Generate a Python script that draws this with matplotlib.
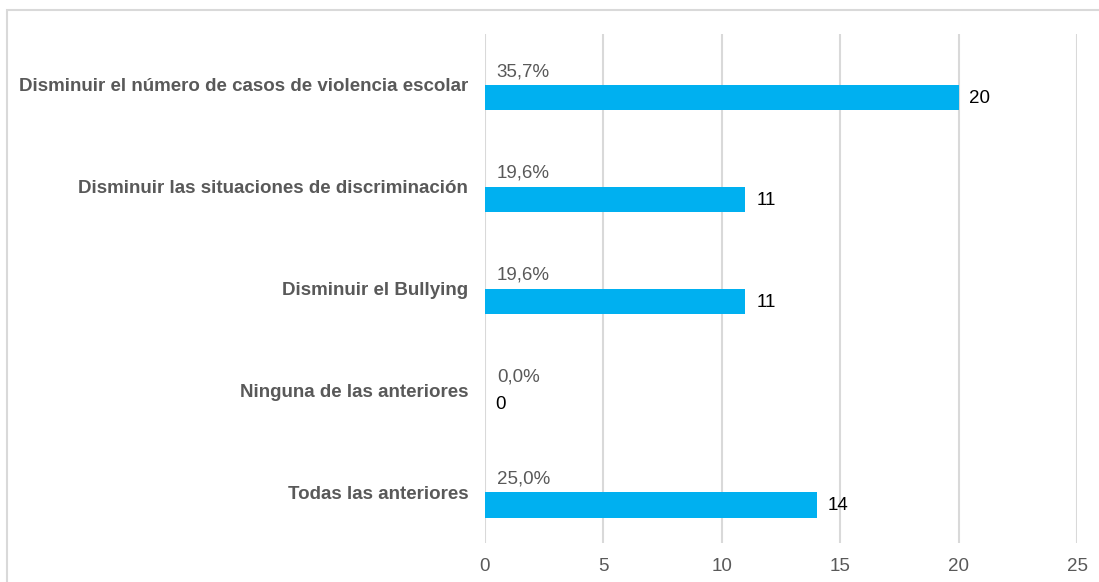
import matplotlib.pyplot as plt
from matplotlib.patches import Rectangle

plt.rcParams['font.family'] = ['Liberation Sans', 'DejaVu Sans']

# data
categories = ["Disminuir el número de casos de violencia escolar",
              "Disminuir las situaciones de discriminación",
              "Disminuir el Bullying",
              "Ninguna de las anteriores",
              "Todas las anteriores"]
counts = [20, 11, 11, 0, 14]
percents = [35.7, 19.6, 19.6, 0.0, 25.0]

fig = plt.figure(figsize=(10.99, 5.82), dpi=100)
ax = fig.add_axes([485 / 1099, 1 - 543 / 582, (1077 - 485) / 1099, (543 - 34) / 582])

# light frame around the chart area
fig.patches.append(Rectangle((7 / 1099, -0.1), 1.2, 1 - 10 / 582 + 0.1,
                             transform=fig.transFigure, fill=False,
                             edgecolor='#d9d9d9', linewidth=1.5))

pos = list(range(len(categories)))
bar_h = 0.25
offset = 0.125
ax.barh([p + offset for p in pos], counts, height=bar_h, color='#00b0f0', zorder=3)

for p, c, pct in zip(pos, counts, percents):
    ax.text(c + 0.45, p + offset + 0.01, str(c), va='center', ha='left',
            fontsize=13.5, color='black')
    ax.text(0.5, p - 0.13, f"{pct:.1f}%".replace('.', ','), va='center',
            ha='left', fontsize=13.5, color='#595959')

ax.set_ylim(4.5, -0.5)
ax.set_xlim(0, 25)
ax.set_xticks([0, 5, 10, 15, 20, 25])
ax.set_yticks(pos)
ax.set_yticklabels(categories, fontsize=13.5, fontweight='bold', color='#595959')
ax.tick_params(axis='y', length=0, pad=12)
ax.tick_params(axis='x', length=0, pad=11, labelsize=13.5, labelcolor='#595959')
ax.grid(axis='x', color='#d9d9d9', linewidth=1.5, zorder=0)
for s in ax.spines.values():
    s.set_visible(False)

fig.savefig('out.png', dpi=100)
